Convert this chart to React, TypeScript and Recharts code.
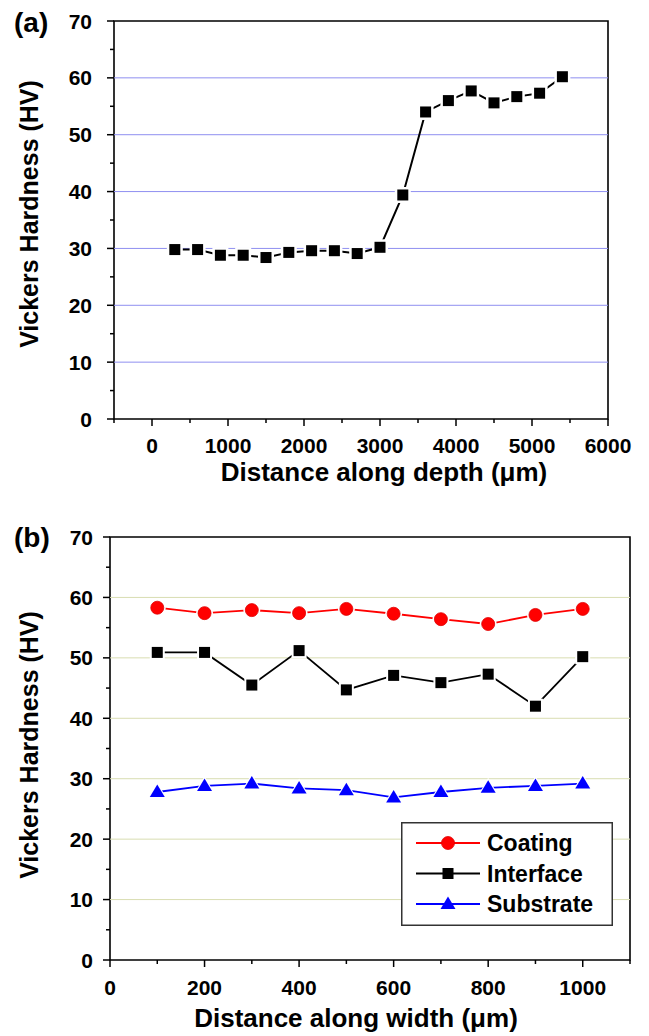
import React from 'react';
import { LineChart, Line, XAxis, YAxis, ReferenceLine, ReferenceArea, Legend } from 'recharts';

// ---------- Data: panel (a) ----------
const depthDistance = [300, 600, 900, 1200, 1500, 1800, 2100, 2400, 2700, 3000, 3300, 3600, 3900, 4200, 4500, 4800, 5100, 5400];
const depthHardness = [29.8, 29.8, 28.8, 28.8, 28.4, 29.3, 29.6, 29.6, 29.1, 30.2, 39.4, 54.0, 56.0, 57.7, 55.6, 56.7, 57.3, 60.2];
const depthTicks = [-500, 0, 500, 1000, 1500, 2000, 2500, 3000, 3500, 4000, 4500, 5000, 5500, 6000];

// ---------- Data: panel (b) ----------
const widthDistance = [100, 200, 300, 400, 500, 600, 700, 800, 900, 1000];
const coating = [58.3, 57.4, 57.9, 57.4, 58.1, 57.3, 56.4, 55.6, 57.1, 58.1];
const interfaceHv = [50.9, 50.9, 45.5, 51.2, 44.7, 47.1, 45.9, 47.3, 42.0, 50.2];
const substrate = [27.8, 28.8, 29.2, 28.4, 28.1, 26.9, 27.8, 28.5, 28.8, 29.2];
const widthTicks = [0, 100, 200, 300, 400, 500, 600, 700, 800, 900, 1000, 1100];

const hvTicks = [0, 5, 10, 15, 20, 25, 30, 35, 40, 45, 50, 55, 60, 65, 70];
const gridValues = [10, 20, 30, 40, 50, 60];
const seriesNames = ['Coating', 'Interface', 'Substrate'];

const depthData = depthDistance.map((d, i) => ({ d, hv: depthHardness[i] }));
const widthData = widthDistance.map((w, i) => ({
  w,
  Coating: coating[i],
  Interface: interfaceHv[i],
  Substrate: substrate[i],
}));

const FONT = '"Liberation Sans", Arial, Helvetica, sans-serif';

const makeXTick = (isMajor: (v: number) => boolean, labelOffset: number) => (props: any) => {
  const { x, y, payload } = props;
  const v = payload.value;
  const major = isMajor(v);
  return (
    <g>
      <line x1={x} x2={x} y1={y} y2={y + (major ? 7 : 4)} stroke="#000" strokeWidth={1.5} />
      {major && (
        <text x={x} y={y + labelOffset} dy="0.36em" textAnchor="middle" fontFamily={FONT} fontWeight="bold" fontSize={21} fill="#000">
          {v}
        </text>
      )}
    </g>
  );
};

const makeYTick = (gap: number) => (props: any) => {
  const { x, y, payload } = props;
  const v = payload.value;
  const major = v % 10 === 0;
  return (
    <g>
      <line x1={x} x2={x - (major ? 7 : 4)} y1={y} y2={y} stroke="#000" strokeWidth={1.5} />
      {major && (
        <text x={x - gap} y={y} dy="0.36em" textAnchor="end" fontFamily={FONT} fontWeight="bold" fontSize={21} fill="#000">
          {v}
        </text>
      )}
    </g>
  );
};

const squareGapDot = (props: any) => {
  const { cx, cy, index } = props;
  if (cx == null || cy == null) return <g key={`sq-${index}`} />;
  return (
    <g key={`sq-${index}`}>
      <rect x={cx - 8} y={cy - 8} width={16} height={16} fill="#fff" />
      <rect x={cx - 5.5} y={cy - 5.5} width={11} height={11} fill="#000" />
    </g>
  );
};

const markerShape = (name: string, cx: number, cy: number, halo: boolean) => {
  if (name === 'Coating') {
    return (
      <g>
        {halo && <circle cx={cx} cy={cy} r={8.5} fill="#fff" />}
        <circle cx={cx} cy={cy} r={6.5} fill="#ff0000" stroke="#e00000" strokeWidth={0.8} />
      </g>
    );
  }
  if (name === 'Interface') {
    return (
      <g>
        {halo && <rect x={cx - 7.5} y={cy - 7.5} width={15} height={15} fill="#fff" />}
        <rect x={cx - 5.5} y={cy - 5.5} width={11} height={11} fill="#000" />
      </g>
    );
  }
  return (
    <g>
      {halo && <polygon points={`${cx},${cy - 10} ${cx - 9.5},${cy + 6.5} ${cx + 9.5},${cy + 6.5}`} fill="#fff" />}
      <polygon points={`${cx},${cy - 7.5} ${cx - 7.5},${cy + 5} ${cx + 7.5},${cy + 5}`} fill="#0000ff" />
    </g>
  );
};

const makeDot = (name: string) => (props: any) => {
  const { cx, cy, index } = props;
  if (cx == null || cy == null) return <g key={`${name}-${index}`} />;
  return <g key={`${name}-${index}`}>{markerShape(name, cx, cy, true)}</g>;
};

const seriesColor: Record<string, string> = { Coating: '#ff0000', Interface: '#000000', Substrate: '#0000ff' };

const LegendBox = () => (
  <svg width={212} height={104} style={{ display: 'block' }}>
    <rect x={0.75} y={0.75} width={210.5} height={102.5} fill="#fff" stroke="#333" strokeWidth={1.5} />
    {seriesNames.map((name, i) => {
      const cy = 21 + i * 30.5;
      return (
        <g key={name}>
          <line x1={15} x2={79} y1={cy} y2={cy} stroke={seriesColor[name]} strokeWidth={1.8} />
          {markerShape(name, 47, cy, false)}
          <text x={86} y={cy} dy="0.36em" fontFamily={FONT} fontWeight="bold" fontSize={23} fill="#000">
            {name}
          </text>
        </g>
      );
    })}
  </svg>
);

export default function App() {
  return (
    <div style={{ position: 'absolute', left: 0, top: 0, width: 649, height: 1036, background: '#fff', overflow: 'hidden' }}>
      {/* Panel (a) */}
      <div style={{ position: 'absolute', left: 0, top: 0 }}>
        <LineChart width={649} height={500} data={depthData} margin={{ top: 21, right: 41, bottom: 21, left: 64 }}>
          <XAxis
            dataKey="d"
            type="number"
            domain={[-500, 6000]}
            ticks={depthTicks}
            interval={0}
            axisLine={false}
            tickLine={false}
            tickSize={0}
            tickMargin={0}
            height={60}
            tick={makeXTick((v) => v % 1000 === 0, 26)}
          />
          <YAxis
            type="number"
            domain={[0, 70]}
            ticks={hvTicks}
            interval={0}
            axisLine={false}
            tickLine={false}
            tickSize={0}
            tickMargin={0}
            width={50}
            tick={makeYTick(22)}
          />
          {gridValues.map((v) => (
            <ReferenceLine key={`ga-${v}`} y={v} stroke="#8f8ff0" strokeWidth={1} />
          ))}
          <ReferenceArea x1={-500} x2={6000} y1={0} y2={70} fill="none" stroke="#000" strokeWidth={1.6} />
          <Line dataKey="hv" stroke="#000" strokeWidth={2} dot={squareGapDot} isAnimationActive={false} />
        </LineChart>
      </div>

      {/* Panel (b) */}
      <div style={{ position: 'absolute', left: 0, top: 500 }}>
        <LineChart width={649} height={536} data={widthData} margin={{ top: 37, right: 19, bottom: 16, left: 60 }}>
          <XAxis
            dataKey="w"
            type="number"
            domain={[0, 1100]}
            ticks={widthTicks}
            interval={0}
            axisLine={false}
            tickLine={false}
            tickSize={0}
            tickMargin={0}
            height={60}
            tick={makeXTick((v) => v % 200 === 0 && v <= 1000, 27)}
          />
          <YAxis
            type="number"
            domain={[0, 70]}
            ticks={hvTicks}
            interval={0}
            axisLine={false}
            tickLine={false}
            tickSize={0}
            tickMargin={0}
            width={50}
            tick={makeYTick(17)}
          />
          {gridValues.map((v) => (
            <ReferenceLine key={`gb-${v}`} y={v} stroke="#d9ddb2" strokeWidth={1} />
          ))}
          <ReferenceArea x1={0} x2={1100} y1={0} y2={70} fill="none" stroke="#000" strokeWidth={1.6} />
          {seriesNames.map((name) => (
            <Line
              key={name}
              dataKey={name}
              name={name}
              stroke={seriesColor[name]}
              strokeWidth={1.8}
              dot={makeDot(name)}
              isAnimationActive={false}
            />
          ))}
          <Legend
            layout="vertical"
            align="center"
            verticalAlign="middle"
            width={212}
            height={104}
            wrapperStyle={{ position: 'absolute', left: 401, top: 322, width: 212, height: 104, right: 'auto', bottom: 'auto' }}
            content={() => <LegendBox />}
          />
        </LineChart>
      </div>

      {/* Titles and panel labels */}
      <svg width={649} height={1036} style={{ position: 'absolute', left: 0, top: 0, pointerEvents: 'none' }}>
        <text x={14} y={31.7} fontFamily={FONT} fontWeight="bold" fontSize={28} fill="#000">(a)</text>
        <text x={14} y={547.2} fontFamily={FONT} fontWeight="bold" fontSize={28} fill="#000">(b)</text>
        <text x={31} y={214} dy="0.26em" transform="rotate(-90 31 214)" textAnchor="middle" fontFamily={FONT} fontWeight="bold" fontSize={25} fill="#000">
          Vickers Hardness (HV)
        </text>
        <text x={31} y={745} dy="0.26em" transform="rotate(-90 31 745)" textAnchor="middle" fontFamily={FONT} fontWeight="bold" fontSize={25} fill="#000">
          Vickers Hardness (HV)
        </text>
        <text x={384} y={481.3} textAnchor="middle" fontFamily={FONT} fontWeight="bold" fontSize={26} fill="#000">
          Distance along depth (μm)
        </text>
        <text x={356} y={1027.3} textAnchor="middle" fontFamily={FONT} fontWeight="bold" fontSize={26} fill="#000">
          Distance along width (μm)
        </text>
      </svg>
    </div>
  );
}
